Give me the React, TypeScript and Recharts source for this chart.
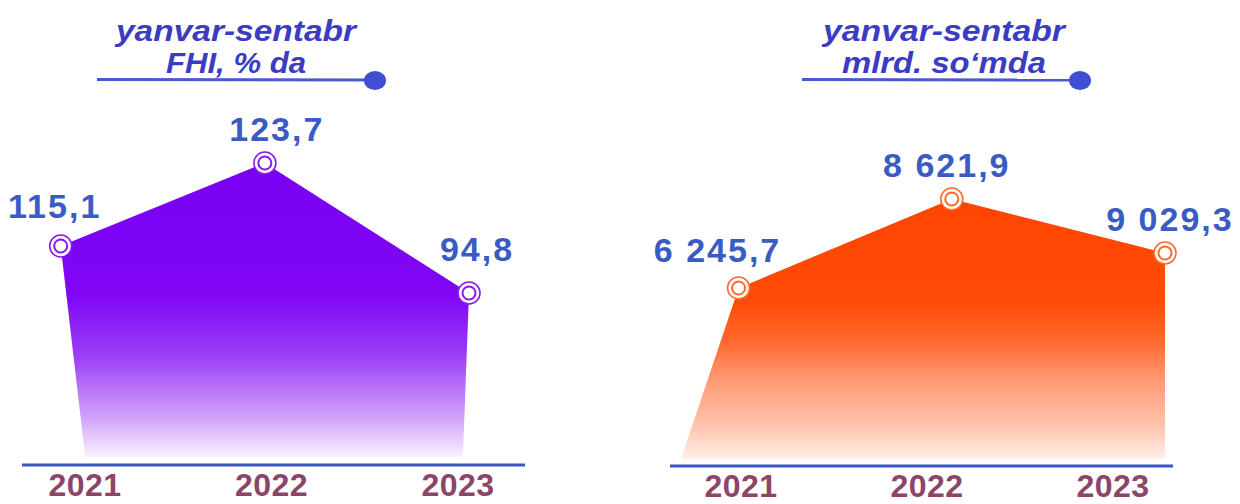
import React from "react";
import { AreaChart, Area, XAxis, YAxis } from "recharts";

// years on both panels
const years = [2021, 2022, 2023];

// left panel: FHI, % (jan-sep)
const fhiValues = [115.1, 123.7, 94.8];
// drawn heights of the shape (picture is not to scale), px above the base
const fhiLevel = [211, 294, 164];
// where the shape meets the base on each side
const fhiEdges = [2021.12, 2022.97];

// right panel: mlrd. so'm (jan-sep)
const sumValues = [6245.7, 8621.9, 9029.3];
const sumLevel = [171, 260, 206];
const sumEdges = [2020.73];

const fhiData = [
  { x: fhiEdges[0], level: 0 },
  ...years.map((y, i) => ({ x: y, level: fhiLevel[i], value: fhiValues[i] })),
  { x: fhiEdges[1], level: 0 },
];

const sumData = [
  { x: sumEdges[0], level: 0 },
  ...years.map((y, i) => ({ x: y, level: sumLevel[i], value: sumValues[i] })),
];

const FONT = "'Liberation Sans', Arial, Helvetica, sans-serif";
const VALUE_BLUE = "#3A5BC3";
const YEAR_RED = "#8C4467";
const TITLE_BLUE = "#3C3CC2";

const fmt = (v: number) => {
  const [int, dec] = v.toFixed(1).split(".");
  return int.replace(/\B(?=(\d{3})+(?!\d))/g, " ") + "," + dec;
};

const YearTick = (props: any) => {
  const { x, y, payload } = props;
  return (
    <text x={x} y={y + 31} textAnchor="middle" fill={YEAR_RED} fontSize={32} fontWeight="bold" letterSpacing={0.5} fontFamily={FONT}>
      {payload.value}
    </text>
  );
};

const makeDot = (color: string, nudge: number[][]) => (props: any) => {
  const { cx, cy, payload, index } = props;
  if (payload.value == null) return <g key={`e${index}`} />;
  const i = years.indexOf(payload.x);
  const [dx, dy] = nudge[i];
  return (
    <g key={`d${index}`}>
      <circle cx={cx} cy={cy} r={11} fill="#fff" stroke={color} strokeWidth={1.6} />
      <circle cx={cx} cy={cy} r={6.5} fill="#fff" stroke={color} strokeWidth={2} />
      <text
        x={cx + dx}
        y={cy + dy}
        textAnchor="middle"
        fill={VALUE_BLUE}
        fontSize={34}
        fontWeight="bold"
        letterSpacing={2}
        fontFamily={FONT}
      >
        {fmt(payload.value)}
      </text>
    </g>
  );
};

const Title = ({ cx, lines, widths, x1, x2 }: { cx: number; lines: string[]; widths: number[]; x1: number; x2: number }) => (
  <g>
    {lines.map((t, i) => (
      <text
        key={t}
        x={cx}
        y={41 + i * 32}
        textAnchor="middle"
        fill={TITLE_BLUE}
        fontSize={30}
        fontWeight="bold"
        fontStyle="italic"
        fontFamily={FONT}
        textLength={widths[i]}
        lengthAdjust="spacingAndGlyphs"
      >
        {t}
      </text>
    ))}
    <line x1={x1} y1={79.5} x2={x2} y2={80} stroke="#4A58D2" strokeWidth={3} />
    <ellipse cx={x2} cy={80.5} rx={11} ry={9.5} fill="#3F4ED2" />
  </g>
);

export default function App() {
  return (
    <div style={{ position: "absolute", left: 0, top: 0, width: 1240, height: 504, background: "#fff", overflow: "hidden" }}>
      <div style={{ position: "absolute", left: 0, top: 0 }}>
        <AreaChart width={620} height={504} data={fhiData} margin={{ top: 157, right: 95, bottom: 9, left: 22 }}>
          <defs>
            <linearGradient id="fhiFill" x1="0" y1="0" x2="0" y2="1">
              <stop offset="0" stopColor="#7A00F3" />
              <stop offset="0.45" stopColor="#8006F5" />
              <stop offset="0.65" stopColor="#9A3CF6" />
              <stop offset="0.87" stopColor="#D2A4F9" />
              <stop offset="1" stopColor="#F8F2FE" />
            </linearGradient>
          </defs>
          <XAxis xAxisId="pos" dataKey="x" type="number" domain={["dataMin", "dataMax"]} padding={{ left: 38.7, right: 56 }} height={0} hide />
          <XAxis
            xAxisId="yr"
            dataKey="x"
            type="number"
            domain={[2021, 2023]}
            allowDataOverflow
            ticks={years}
            interval={0}
            padding={{ left: 63, right: 67 }}
            height={30}
            tickSize={0}
            tickMargin={0}
            tickLine={false}
            axisLine={{ stroke: "#3B55C0", strokeWidth: 3 }}
            tick={<YearTick />}
          />
          <YAxis domain={[-8, 300]} hide />
          <Area
            xAxisId="pos"
            type="linear"
            dataKey="level"
            stroke="none"
            fill="url(#fhiFill)"
            fillOpacity={1}
            dot={makeDot("#8A16F0", [[-6, -28], [12, -22], [8, -32]])}
            activeDot={false}
            isAnimationActive={false}
          />
        </AreaChart>
      </div>
      <div style={{ position: "absolute", left: 620, top: 0 }}>
        <AreaChart width={620} height={504} data={sumData} margin={{ top: 159, right: 67, bottom: 8, left: 50 }}>
          <defs>
            <linearGradient id="sumFill" x1="0" y1="0" x2="0" y2="1">
              <stop offset="0" stopColor="#FF4400" />
              <stop offset="0.4" stopColor="#FF4C08" />
              <stop offset="0.55" stopColor="#FF6A30" />
              <stop offset="0.7" stopColor="#FF9A76" />
              <stop offset="0.88" stopColor="#FFC6B0" />
              <stop offset="1" stopColor="#FFF1EB" />
            </linearGradient>
          </defs>
          <XAxis xAxisId="pos" dataKey="x" type="number" domain={["dataMin", "dataMax"]} padding={{ left: 11, right: 8 }} height={0} hide />
          <XAxis
            xAxisId="yr"
            dataKey="x"
            type="number"
            domain={[2021, 2023]}
            allowDataOverflow
            ticks={years}
            interval={0}
            padding={{ left: 71, right: 60 }}
            height={30}
            tickSize={0}
            tickMargin={0}
            tickLine={false}
            axisLine={{ stroke: "#3B55C0", strokeWidth: 3 }}
            tick={<YearTick />}
          />
          <YAxis domain={[-7, 300]} hide />
          <Area
            xAxisId="pos"
            type="linear"
            dataKey="level"
            stroke="none"
            fill="url(#sumFill)"
            fillOpacity={1}
            dot={makeDot("#FF6A2A", [[-21, -26], [-5, -22], [5, -22]])}
            activeDot={false}
            isAnimationActive={false}
          />
        </AreaChart>
      </div>
      <svg width={1240} height={504} style={{ position: "absolute", left: 0, top: 0, pointerEvents: "none" }}>
        <Title cx={236} lines={["yanvar-sentabr", "FHI, % da"]} widths={[240, 140]} x1={97} x2={375} />
        <Title cx={944} lines={["yanvar-sentabr", "mlrd. so\u2018mda"]} widths={[242, 204]} x1={802} x2={1080} />
      </svg>
    </div>
  );
}
